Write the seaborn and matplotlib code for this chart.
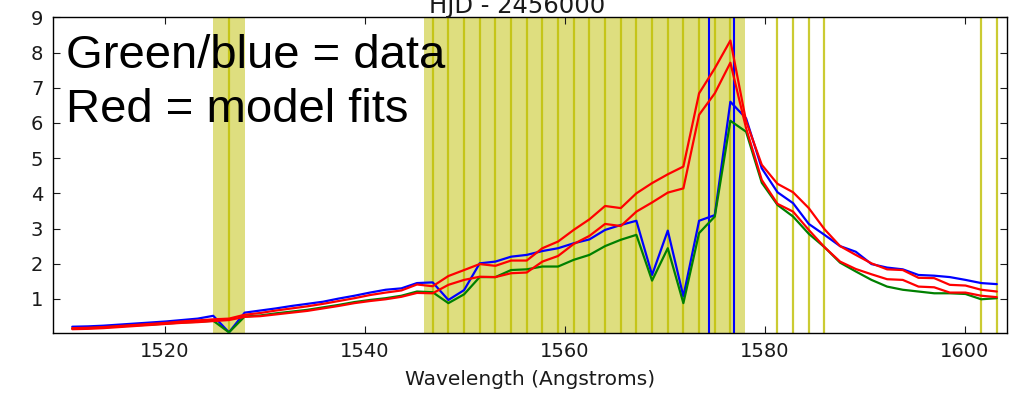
import matplotlib
matplotlib.use("Agg")
import matplotlib.pyplot as plt
import seaborn as sns
import pandas as pd

# Wavelength grid of the spectrum (Angstroms)
wavelength = [
    1510.73, 1512.30, 1513.86, 1515.43, 1517.00, 1518.57, 1520.13, 1521.70, 1523.27, 1524.83,
    1526.40, 1527.97, 1529.53, 1531.10, 1532.67, 1534.24, 1535.80, 1537.37, 1538.94, 1540.50,
    1542.07, 1543.64, 1545.20, 1546.77, 1548.34, 1549.91, 1551.47, 1553.04, 1554.61, 1556.17,
    1557.74, 1559.31, 1560.87, 1562.44, 1564.01, 1565.58, 1567.14, 1568.71, 1570.28, 1571.84,
    1573.41, 1574.98, 1576.54, 1578.11, 1579.68, 1581.25, 1582.81, 1584.38, 1585.95, 1587.51,
    1589.08, 1590.65, 1592.21, 1593.78, 1595.35, 1596.92, 1598.48, 1600.05, 1601.62, 1603.18,
]

# Observed fluxes
flux_blue = [
    0.21, 0.22, 0.24, 0.27, 0.30, 0.33, 0.36, 0.40, 0.44, 0.52,
    0.05, 0.61, 0.67, 0.73, 0.80, 0.86, 0.92, 1.01, 1.09, 1.18,
    1.26, 1.30, 1.45, 1.47, 0.97, 1.25, 2.01, 2.06, 2.20, 2.25,
    2.36, 2.44, 2.58, 2.69, 2.96, 3.10, 3.22, 1.68, 2.94, 1.07,
    3.22, 3.38, 6.60, 6.13, 4.71, 4.03, 3.72, 3.13, 2.82, 2.50,
    2.34, 1.99, 1.89, 1.84, 1.68, 1.66, 1.62, 1.54, 1.45, 1.42,
]
flux_green = [
    0.16, 0.17, 0.19, 0.22, 0.25, 0.27, 0.30, 0.33, 0.35, 0.38,
    0.05, 0.50, 0.53, 0.59, 0.64, 0.69, 0.76, 0.83, 0.91, 0.97,
    1.02, 1.09, 1.21, 1.19, 0.88, 1.13, 1.62, 1.62, 1.82, 1.84,
    1.92, 1.92, 2.11, 2.25, 2.50, 2.68, 2.82, 1.52, 2.44, 0.88,
    2.87, 3.34, 6.06, 5.75, 4.30, 3.67, 3.34, 2.85, 2.47, 2.03,
    1.78, 1.54, 1.35, 1.26, 1.21, 1.16, 1.16, 1.14, 0.99, 1.02,
]

# Model fits
model_upper = [
    0.17, 0.18, 0.20, 0.23, 0.26, 0.29, 0.32, 0.36, 0.39, 0.42,
    0.44, 0.55, 0.60, 0.67, 0.73, 0.79, 0.86, 0.94, 1.02, 1.11,
    1.18, 1.24, 1.41, 1.36, 1.65, 1.82, 1.99, 1.94, 2.09, 2.09,
    2.44, 2.63, 2.96, 3.26, 3.64, 3.58, 4.00, 4.29, 4.54, 4.76,
    6.84, 7.55, 8.34, 6.05, 4.81, 4.27, 4.03, 3.58, 2.98, 2.50,
    2.25, 2.01, 1.84, 1.82, 1.60, 1.59, 1.40, 1.38, 1.26, 1.21,
]
model_lower = [
    0.14, 0.15, 0.17, 0.20, 0.23, 0.26, 0.29, 0.32, 0.34, 0.37,
    0.40, 0.49, 0.51, 0.56, 0.61, 0.66, 0.73, 0.80, 0.88, 0.94,
    0.99, 1.06, 1.17, 1.16, 1.40, 1.54, 1.63, 1.62, 1.73, 1.75,
    2.06, 2.22, 2.56, 2.79, 3.13, 3.07, 3.48, 3.74, 4.02, 4.14,
    6.23, 6.84, 7.71, 5.85, 4.38, 3.70, 3.48, 2.96, 2.47, 2.06,
    1.85, 1.70, 1.56, 1.54, 1.35, 1.33, 1.18, 1.18, 1.09, 1.05,
]

# Masked pixels and excluded wavelength ranges
masked_wavelengths = [wavelength[10]] + wavelength[23:43] + wavelength[45:49] + wavelength[58:60]
masked_ranges = [(1524.8, 1528.0), (1545.9, 1578.0)]
line_markers = [1574.4, 1576.9]

x_ticks = [1520, 1540, 1560, 1580, 1600]
y_ticks = [1, 2, 3, 4, 5, 6, 7, 8, 9]

sns.set_style("ticks")
plt.rcParams["font.family"] = ["DejaVu Sans"]
plt.rcParams.update({
    "xtick.direction": "in", "ytick.direction": "in",
    "xtick.top": True, "ytick.right": True,
    "xtick.major.size": 5, "ytick.major.size": 5,
    "xtick.color": "#1a1a1a", "ytick.color": "#1a1a1a",
    "text.color": "black", "axes.labelcolor": "#1a1a1a",
    "axes.edgecolor": "black", "axes.linewidth": 1.0,
})

fig = plt.figure(figsize=(10.09, 3.95), dpi=100)
ax = fig.add_axes([0.0525, 0.1577, 0.9455, 0.7985])

for lo, hi in masked_ranges:
    ax.axvspan(lo, hi, color="y", alpha=0.5, lw=0, zorder=0)
for w in masked_wavelengths:
    ax.axvline(w, color="y", alpha=0.8, lw=1.6, zorder=1)
for w in line_markers:
    ax.axvline(w, color="b", lw=1.5, zorder=2)

df = pd.DataFrame({
    "wavelength": wavelength,
    "blue": flux_blue,
    "green": flux_green,
    "upper": model_upper,
    "lower": model_lower,
})
for col, c in [("blue", "b"), ("green", "g"), ("upper", "r"), ("lower", "r")]:
    sns.lineplot(data=df, x="wavelength", y=col, color=c, lw=1.6,
                 estimator=None, sort=False, ax=ax, zorder=3)

ax.set_xlim(1508.8, 1604.2)
ax.set_ylim(0.04, 9)
ax.set_xticks(x_ticks)
ax.set_yticks(y_ticks)
ax.tick_params(labelsize=14, pad=7)
ax.set_xlabel("Wavelength (Angstroms)", fontsize=14.5, labelpad=6)
ax.set_ylabel("")

fig.text(517 / 1009, 1 - 12.5 / 395, "HJD - 2456000", ha="center",
         va="baseline", fontsize=17.5, color="#1a1a1a")

fig.text(66 / 1009, 1 - 68 / 395, "Green/blue = data", fontsize=34,
         family="Liberation Sans", va="baseline", ha="left")
fig.text(66 / 1009, 1 - 121.5 / 395, "Red = model fits", fontsize=34,
         family="Liberation Sans", va="baseline", ha="left")

fig.savefig("out.png", dpi=100)
